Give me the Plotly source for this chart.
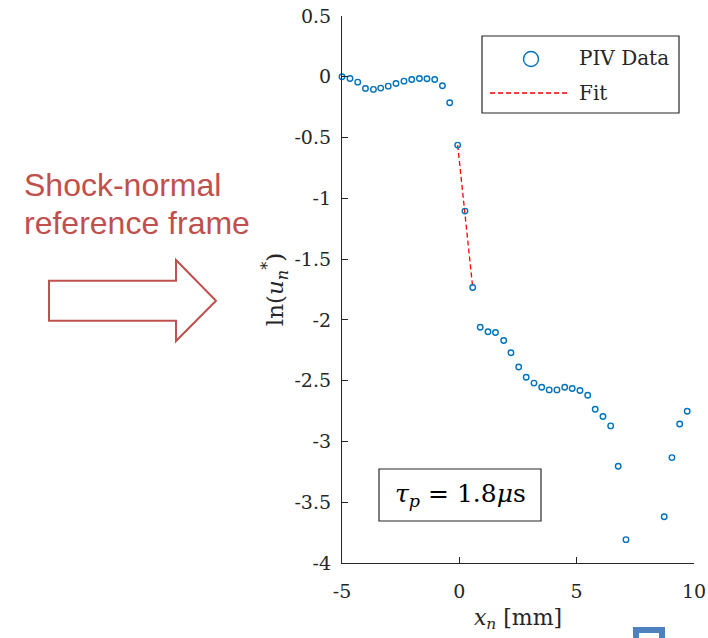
import plotly.graph_objects as go

# ---- data ----
x_mm = [-5.00, -4.66, -4.33, -4.00, -3.66, -3.35, -3.03, -2.70, -2.36, -2.03,
        -1.70, -1.38, -1.05, -0.72, -0.41, -0.07, 0.24, 0.57, 0.89, 1.22,
        1.54, 1.89, 2.20, 2.53, 2.85, 3.18, 3.51, 3.83, 4.16, 4.49,
        4.81, 5.14, 5.47, 5.79, 6.12, 6.45, 6.77, 7.10, 8.73, 9.06,
        9.39, 9.71]
ln_u = [0.000, -0.014, -0.044, -0.096, -0.104, -0.093, -0.077, -0.055, -0.036, -0.022,
        -0.014, -0.016, -0.022, -0.074, -0.214, -0.562, -1.105, -1.733, -2.060, -2.098,
        -2.104, -2.170, -2.270, -2.387, -2.472, -2.520, -2.554, -2.576, -2.576, -2.554,
        -2.565, -2.581, -2.620, -2.735, -2.795, -2.872, -3.204, -3.808, -3.619, -3.133,
        -2.856, -2.751]
fit_x = [-0.07, 0.57]
fit_y = [-0.562, -1.733]

x_ticks = [-5, 0, 5, 10]
x_ticktext = ["-5", "0", "5", "10"]
y_ticks = [-4, -3.5, -3, -2.5, -2, -1.5, -1, -0.5, 0, 0.5]
y_ticktext = ["-4", "-3.5", "-3", "-2.5", "-2", "-1.5", "-1", "-0.5", "0", "0.5"]

legend_labels = ["PIV Data", "Fit"]
tau_label = "<i>τ</i><sub><i>p</i></sub> = 1.8<i>μ</i>s"
side_label = ["Shock-normal", "reference frame"]

BLUE = "#0072BD"
AXC = "#262626"
SERIF = "DejaVu Serif"
RED_TXT = "#C0504D"

fig = go.Figure()
fig.add_trace(go.Scatter(
    x=fit_x, y=fit_y, mode="lines", name="Fit",
    line=dict(color="#FF0000", width=1.3, dash="5px,3px"),
    showlegend=False, cliponaxis=False))
fig.add_trace(go.Scatter(
    x=x_mm, y=ln_u, mode="markers", name="PIV Data",
    marker=dict(symbol="circle-open", size=5.5, color=BLUE, line=dict(width=1.4, color=BLUE)),
    showlegend=False, cliponaxis=False))

axis_common = dict(
    showgrid=False, zeroline=False, showline=True, linecolor=AXC, linewidth=1.2,
    ticks="inside", ticklen=6, tickwidth=1.2, tickcolor=AXC,
    tickfont=dict(family=SERIF, size=19, color=AXC), mirror=False)

fig.update_layout(
    width=708, height=638,
    margin=dict(l=342, r=14, t=16, b=75, autoexpand=False),
    paper_bgcolor="white", plot_bgcolor="white",
    xaxis=dict(range=[-5, 10], tickvals=x_ticks, ticktext=x_ticktext,
               ticklabelstandoff=11,
               title=dict(text="<i>x</i><sub><i>n</i></sub> [mm]",
                          font=dict(family=SERIF, size=22, color=AXC), standoff=8),
               **axis_common),
    yaxis=dict(range=[-4, 0.5], tickvals=y_ticks, ticktext=y_ticktext,
               ticklabelstandoff=6,
               title=dict(text="ln(<i>u</i><sub><i>n</i></sub><sup>*</sup>)",
                          font=dict(family=SERIF, size=23, color=AXC), standoff=4),
               **axis_common),
)

def px2x(px):
    return (px - 342) / 352.0

def py2y(py):
    return (563 - py) / 547.0

shapes = []
# legend box
shapes.append(dict(type="rect", xref="paper", yref="paper",
                   x0=px2x(482), x1=px2x(679), y0=py2y(113), y1=py2y(36),
                   line=dict(color=AXC, width=1.2), fillcolor="white", layer="below"))
shapes.append(dict(type="circle", xref="paper", yref="paper",
                   x0=px2x(523.5), x1=px2x(538.5), y0=py2y(66.5), y1=py2y(51.5),
                   line=dict(color=BLUE, width=1.4)))
shapes.append(dict(type="line", xref="paper", yref="paper",
                   x0=px2x(490), x1=px2x(570), y0=py2y(93), y1=py2y(93),
                   line=dict(color="#FF0000", width=1.3, dash="5px,3px")))
# tau box
shapes.append(dict(type="rect", xref="paper", yref="paper",
                   x0=px2x(379), x1=px2x(541), y0=py2y(521), y1=py2y(469),
                   line=dict(color=AXC, width=1.2), fillcolor="white", layer="below"))
# outline arrow
pts = [(49, 280.7), (176, 280.7), (176, 260), (216, 300.7), (176, 341), (176, 320.7), (49, 320.7)]
path = "M " + " L ".join(f"{px2x(a):.4f},{py2y(b):.4f}" for a, b in pts) + " Z"
shapes.append(dict(type="path", xref="paper", yref="paper", path=path,
                   line=dict(color=RED_TXT, width=2), fillcolor="white"))
# blue square fragment at bottom right
shapes.append(dict(type="rect", xref="paper", yref="paper",
                   x0=px2x(636), x1=px2x(662), y0=py2y(672), y1=py2y(630),
                   line=dict(color="#4F81BD", width=6), fillcolor="rgba(0,0,0,0)"))
fig.update_layout(shapes=shapes)

ann = []
ann.append(dict(xref="paper", yref="paper", x=px2x(577), y=py2y(58), text=legend_labels[0],
                showarrow=False, xanchor="left", yanchor="middle",
                font=dict(family=SERIF, size=20, color=AXC)))
ann.append(dict(xref="paper", yref="paper", x=px2x(577), y=py2y(93), text=legend_labels[1],
                showarrow=False, xanchor="left", yanchor="middle",
                font=dict(family=SERIF, size=20, color=AXC)))
ann.append(dict(xref="paper", yref="paper", x=px2x(460), y=py2y(495), text=tau_label,
                showarrow=False, xanchor="center", yanchor="middle",
                font=dict(family=SERIF, size=25, color="black")))
ann.append(dict(xref="paper", yref="paper", x=px2x(22), y=py2y(185), text=side_label[0],
                showarrow=False, xanchor="left", yanchor="middle",
                font=dict(family="Liberation Sans", size=32, color=RED_TXT)))
ann.append(dict(xref="paper", yref="paper", x=px2x(22), y=py2y(223), text=side_label[1],
                showarrow=False, xanchor="left", yanchor="middle",
                font=dict(family="Liberation Sans", size=32, color=RED_TXT)))
fig.update_layout(annotations=ann)

fig.write_html("out.html")
